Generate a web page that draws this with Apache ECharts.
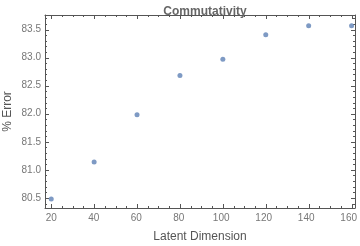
<!DOCTYPE html>
<html>
<head>
<meta charset="utf-8">
<script src="https://cdn.jsdelivr.net/npm/echarts@6/dist/echarts.min.js"></script>
<style>
  html, body { margin: 0; padding: 0; background: #fff; }
  #chart { width: 360px; height: 246px; }
</style>
</head>
<body>
<div id="chart"></div>
<script>
// values
const dims = [20, 40, 60, 80, 100, 120, 140, 160];
const errors = [80.48, 81.14, 81.98, 82.68, 82.97, 83.41, 83.57, 83.57];

// tick marks: majors labelled, minors every 5 on x and 0.1 on y
const xMajor = [20, 40, 60, 80, 100, 120, 140, 160];
const yMajor = [80.5, 81.0, 81.5, 82.0, 82.5, 83.0, 83.5];
const xMinor = [];
for (let v = 25; v < 160; v += 5) if (v % 20 !== 0) xMinor.push(v);
const yMinor = [];
for (let k = 804; k <= 837; k++) if (k % 5 !== 0) yMinor.push(k / 10);

const frame = '#555';
const labelColor = '#777';
const font = 'Liberation Sans';

// plot frame (Mathematica pads the range a little)
const W = 360, H = 246;
const box = { left: 45, right: 5, top: 15, bottom: 38 };
const xRange = { min: 17.1, max: 161.6 };
const yRange = { min: 80.32, max: 83.76 };

const plotW = W - box.left - box.right;
const plotH = H - box.top - box.bottom;
const px = v => box.left + (v - xRange.min) / (xRange.max - xRange.min) * plotW;
const py = v => box.top + (yRange.max - v) / (yRange.max - yRange.min) * plotH;

// label-only grids whose ends sit on the first/last major tick
const grids = [
  box,
  { left: px(xMajor[0]), right: W - px(xMajor[xMajor.length - 1]), top: box.top, bottom: box.bottom },
  { left: box.left, right: box.right, top: py(yMajor[yMajor.length - 1]), bottom: H - py(yMajor[0]) }
];

const labelAxis = (gi, pos, min, max, interval, label) => ({
  type: 'value', gridIndex: gi, position: pos, min, max, interval,
  splitLine: { show: false }, axisLine: { show: false }, axisTick: { show: false },
  axisLabel: label
});
const blank = gi => ({ type: 'value', gridIndex: gi, show: false });

const frameAxis = (pos, range) => ({
  type: 'value', gridIndex: 0, position: pos, ...range,
  splitLine: { show: false }, axisTick: { show: false }, axisLabel: { show: false },
  axisLine: { show: true, onZero: false, lineStyle: { color: frame } }
});

// tick marks drawn on both opposite frame edges through the main scales
function tickSeries(data, vertical) {
  return {
    type: 'custom', xAxisIndex: 0, yAxisIndex: 0, silent: true, z: 5,
    data,
    renderItem: (params, api) => {
      const cs = params.coordSys;
      const p = api.coord([api.value(0), api.value(1)]);
      const len = api.value(2);
      const style = { stroke: frame, lineWidth: 1 };
      if (vertical) {
        const x = Math.round(p[0]) + 0.5;
        return { type: 'group', children: [
          { type: 'line', shape: { x1: x, y1: cs.y + cs.height, x2: x, y2: cs.y + cs.height - len }, style },
          { type: 'line', shape: { x1: x, y1: cs.y, x2: x, y2: cs.y + len }, style }
        ] };
      }
      const y = Math.round(p[1]) + 0.5;
      return { type: 'group', children: [
        { type: 'line', shape: { x1: cs.x, y1: y, x2: cs.x + len, y2: y }, style },
        { type: 'line', shape: { x1: cs.x + cs.width, y1: y, x2: cs.x + cs.width - len, y2: y }, style }
      ] };
    }
  };
}

const xTickData = xMajor.map(v => [v, yRange.min, 4]).concat(xMinor.map(v => [v, yRange.min, 2]));
const yTickData = yMajor.map(v => [xRange.min, v, 4]).concat(yMinor.map(v => [xRange.min, v, 2]));

const chart = echarts.init(document.getElementById('chart'), null, { renderer: 'canvas' });
chart.setOption({
  animation: false,
  backgroundColor: '#fff',
  grid: grids,
  title: {
    text: 'Commutativity', left: px((xRange.min + xRange.max) / 2), top: 1, textAlign: 'center',
    textStyle: { fontFamily: font, fontSize: 12, fontWeight: 'bold', color: '#666' }
  },
  xAxis: [
    frameAxis('bottom', xRange),
    frameAxis('top', xRange),
    labelAxis(1, 'bottom', xMajor[0], xMajor[xMajor.length - 1], 20,
      { show: true, color: labelColor, fontFamily: font, fontSize: 10, margin: 5 }),
    blank(2)
  ],
  yAxis: [
    frameAxis('left', yRange),
    frameAxis('right', yRange),
    blank(1),
    labelAxis(2, 'left', yMajor[0], yMajor[yMajor.length - 1], 0.5,
      { show: true, color: labelColor, fontFamily: font, fontSize: 10, margin: 4, formatter: v => v.toFixed(1) })
  ],
  graphic: [
    { type: 'text', x: px((xRange.min + xRange.max) / 2), y: 237,
      style: { text: 'Latent Dimension', font: '12px "Liberation Sans"', fill: '#555',
               textAlign: 'center', textVerticalAlign: 'middle' } },
    { type: 'text', rotation: Math.PI / 2, x: 8, y: py((yRange.min + yRange.max) / 2),
      style: { text: '% Error', font: '12px "Liberation Sans"', fill: '#555',
               textAlign: 'center', textVerticalAlign: 'middle' } }
  ],
  series: [
    tickSeries(xTickData, true),
    tickSeries(yTickData, false),
    {
      type: 'scatter',
      xAxisIndex: 0, yAxisIndex: 0,
      symbolSize: 5, z: 6,
      itemStyle: { color: '#5E81B5' },
      data: dims.map((d, i) => [d, errors[i]])
    }
  ]
});
</script>
</body>
</html>
